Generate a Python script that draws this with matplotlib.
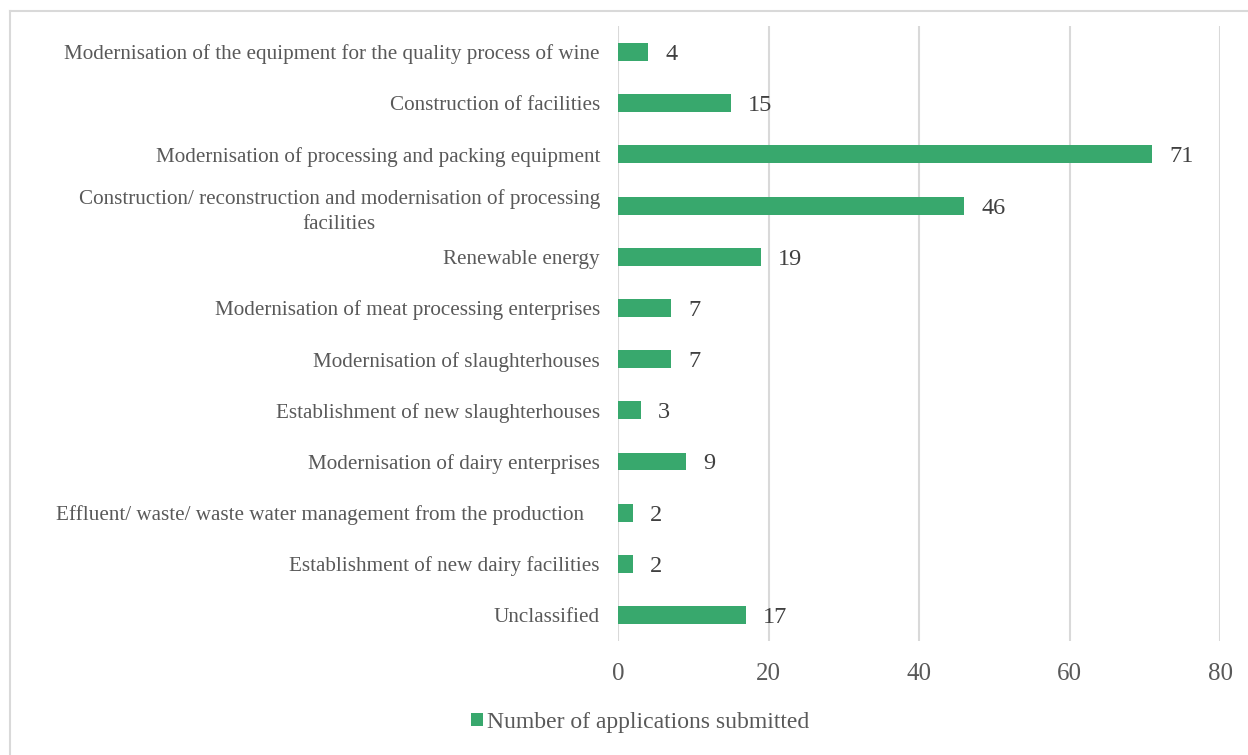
import matplotlib.pyplot as plt

categories = [
    "Modernisation of the equipment for the quality process of wine",
    "Construction of facilities",
    "Modernisation of processing and packing equipment",
    "Construction/ reconstruction and modernisation of processing\nfacilities",
    "Renewable energy",
    "Modernisation of meat processing enterprises",
    "Modernisation of slaughterhouses",
    "Establishment of new slaughterhouses",
    "Modernisation of dairy enterprises",
    "Effluent/ waste/ waste water management from the production   ",
    "Establishment of new dairy facilities",
    "Unclassified",
]
values = [4, 15, 71, 46, 19, 7, 7, 3, 9, 2, 2, 17]
xticks = [0, 20, 40, 60, 80]

green = "#38A86D"
plt.rcParams['font.family'] = ['Liberation Serif', 'DejaVu Serif']

fig = plt.figure(figsize=(12.48, 7.55), dpi=100)
ax = fig.add_axes([0.4952, 0.1515, 0.4824, 0.8135])

pos = list(range(len(categories)))
ax.barh(pos, values, height=0.35, color=green, zorder=3)
for p, v in zip(pos, values):
    ax.text(v + 2.3, p, str(v), va='center_baseline', ha='left', fontsize=17.5, color='#404040')

ax.set_ylim(len(categories) - 0.5, -0.5)
ax.set_xlim(0, 80)
ax.set_xticks(xticks)
ax.set_xticklabels([str(t) for t in xticks], fontsize=18, color='#595959')
ax.set_yticks(pos)
ax.set_yticklabels(categories, fontsize=15.2, color='#595959', multialignment='center', linespacing=1.45)
ax.tick_params(axis='x', length=0, pad=16)
ax.tick_params(axis='y', length=0, pad=13)
ax.xaxis.grid(True, color='#d9d9d9', linewidth=1.5, zorder=0)
for s in ax.spines.values():
    s.set_visible(False)

ax.legend(['Number of applications submitted'], loc='center', bbox_to_anchor=(0.513, 0.043),
          bbox_transform=fig.transFigure, frameon=False, fontsize=17,
          handlelength=0.5, handleheight=0.5, handletextpad=0.2, labelcolor='#595959')

# outer border
fig.add_artist(plt.Line2D([10 / 1248, 10 / 1248], [0, 1 - 11 / 755], transform=fig.transFigure, color='#d9d9d9', lw=1.5))
fig.add_artist(plt.Line2D([10 / 1248, 1], [1 - 11 / 755, 1 - 11 / 755], transform=fig.transFigure, color='#d9d9d9', lw=1.5))

fig.savefig('out.png', dpi=100)
